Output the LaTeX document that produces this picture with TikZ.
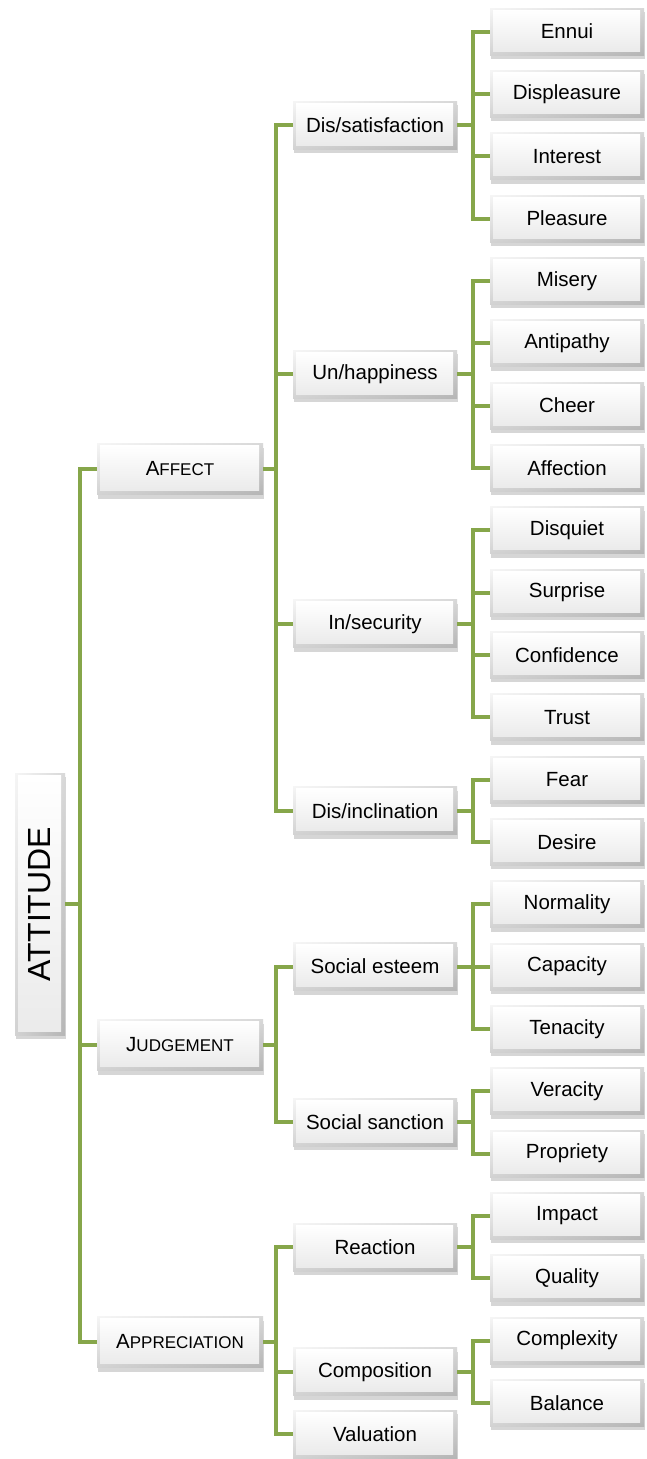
\documentclass[tikz,border=0pt]{standalone}
\usepackage{fontspec}
\setmainfont{Liberation Sans}
\usetikzlibrary{shadows}
\newcommand\fakesc[2]{#1{\fontsize{17}{20}\selectfont #2}}
\begin{document}
\begin{tikzpicture}[x=1pt,y=-1pt,
  bevelbox/.style={inner sep=0pt, font=\fontsize{20.5}{24}\selectfont, text=black,
    drop shadow={shadow xshift=1pt,shadow yshift=-4pt,opacity=.4,fill=gray!80},
    path picture={
      \shade[top color=gray!15,bottom color=gray!70] (path picture bounding box.south west) rectangle (path picture bounding box.north east);
      \shade[left color=white,right color=gray!45,opacity=.5] (path picture bounding box.south west) rectangle (path picture bounding box.north east);
      \shade[top color=white,bottom color=gray!16] ([shift={(3pt,4pt)}]path picture bounding box.south west) rectangle ([shift={(-4pt,-2pt)}]path picture bounding box.north east);
    }},
  leaf/.style={bevelbox, minimum width=154pt, minimum height=47pt},
  mid/.style={bevelbox, minimum width=164pt, minimum height=48pt},
  top/.style={bevelbox, minimum width=166pt, minimum height=51pt},
  conn/.style={draw={rgb,255:red,134;green,166;blue,74}, line width=4pt, line join=miter}
]
\useasboundingbox (0,0) rectangle (647,1459);
% trunk coordinates
\coordinate (t0) at (80,0);
\coordinate (t1) at (276,0);
\coordinate (t2) at (473,0);
% root
\node[bevelbox, minimum width=50pt, minimum height=262pt] (att) at (40,904) {};
\node[rotate=90, font=\fontsize{32}{36}\selectfont] (attlabel) at (att.center) {ATTITUDE};
% level 1
\node[top] (affect) at (180,469) {\fakesc{A}{FFECT}};
\node[top] (judg) at (180,1045) {\fakesc{J}{UDGEMENT}};
\node[top] (appr) at (180,1342) {\fakesc{A}{PPRECIATION}};
% level 2
\node[mid] (dissat) at (375,125) {Dis/satisfaction};
\node[mid] (unhap) at (375,374.4) {Un/happiness};
\node[mid] (insec) at (375,623.8) {In/security};
\node[mid] (disinc) at (375,810.8) {Dis/inclination};
\node[mid] (sesteem) at (375,966.6) {Social esteem};
\node[mid] (ssanct) at (375,1122.4) {Social sanction};
\node[mid] (react) at (375,1247) {Reaction};
\node[mid] (compo) at (375,1371.7) {Composition};
\node[mid] (valu) at (375,1434) {Valuation};
% leaves
\foreach \n/\t [count=\i from 0] in {ennui/Ennui,displ/Displeasure,inter/Interest,pleas/Pleasure,miser/Misery,antip/Antipathy,cheer/Cheer,affec/Affection,disqu/Disquiet,surpr/Surprise,confi/Confidence,trust/Trust,fear/Fear,desir/Desire,norma/Normality,capac/Capacity,tenac/Tenacity,verac/Veracity,propr/Propriety,impac/Impact,quali/Quality,compl/Complexity,balan/Balance}
  \node[leaf] (\n) at (567,{31.5+62.34*\i}) {\t};
% connectors level 0 -> 1
\draw[conn] (att.east) -- (att.east -| t0);
\foreach \c in {affect,judg,appr}
  \draw[conn] (att.east -| t0) |- (\c.west);
% level 1 -> 2
\foreach \p/\cs in {affect/{dissat,unhap,insec,disinc},judg/{sesteem,ssanct},appr/{react,compo,valu}}{
  \draw[conn] (\p.east) -- (\p.east -| t1);
  \foreach \c in \cs
    \draw[conn] (\p.east -| t1) |- (\c.west);
}
% level 2 -> leaves
\foreach \p/\cs in {dissat/{ennui,displ,inter,pleas},unhap/{miser,antip,cheer,affec},insec/{disqu,surpr,confi,trust},disinc/{fear,desir},sesteem/{norma,capac,tenac},ssanct/{verac,propr},react/{impac,quali},compo/{compl,balan}}{
  \draw[conn] (\p.east) -- (\p.east -| t2);
  \foreach \c in \cs
    \draw[conn] (\p.east -| t2) |- (\c.west);
}
\end{tikzpicture}
\end{document}
